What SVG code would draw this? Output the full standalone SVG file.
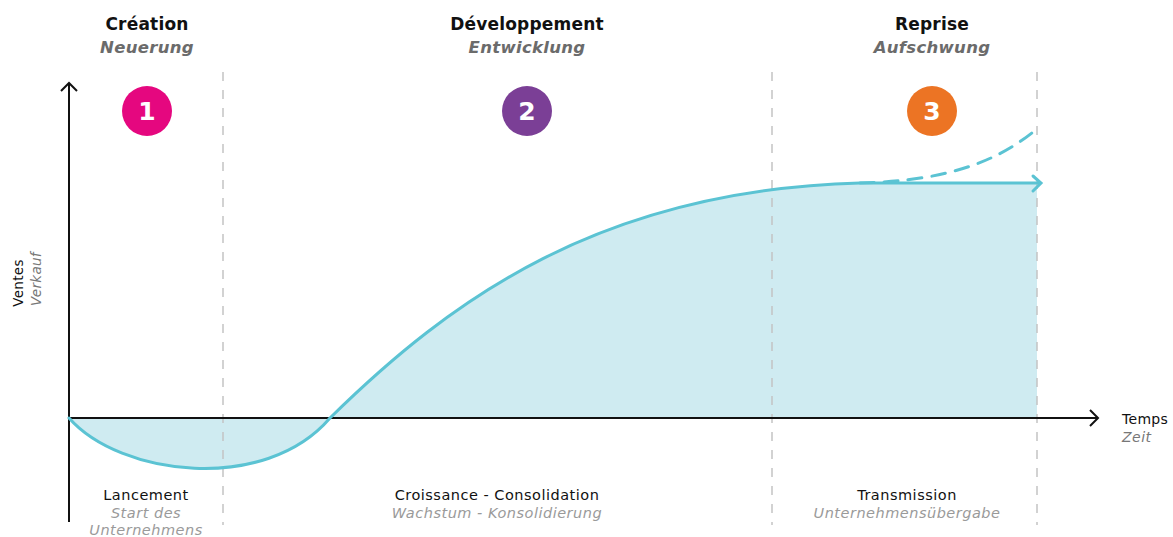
<svg xmlns="http://www.w3.org/2000/svg" width="1173" height="537" viewBox="0 0 1173 537">
<style>
.t{font-family:"DejaVu Sans","Liberation Sans",sans-serif;font-size:17px;font-weight:700;fill:#111;text-anchor:middle;letter-spacing:0.2px}
.ts{font-family:"DejaVu Sans","Liberation Sans",sans-serif;font-size:16.5px;font-weight:700;font-style:italic;fill:#6b6b6b;text-anchor:middle;letter-spacing:0.3px}
.l{font-family:"DejaVu Sans","Liberation Sans",sans-serif;font-size:14.5px;fill:#111;text-anchor:middle;letter-spacing:0.5px}
.ls{font-family:"DejaVu Sans","Liberation Sans",sans-serif;font-size:14.5px;font-style:italic;fill:#9a9a9a;text-anchor:middle;letter-spacing:0.5px}
.n{font-family:"DejaVu Sans","Liberation Sans",sans-serif;font-size:25px;font-weight:700;fill:#fff;text-anchor:middle}
.guide{stroke:#c4c4c4;stroke-width:1.5;stroke-dasharray:9 9;fill:none}
.axis{stroke:#111;stroke-width:2;fill:none}
.curve{stroke:#5bc3d3;stroke-width:3;fill:none;stroke-linecap:round}
</style>
<rect width="1173" height="537" fill="#fff"/>
<g id="area">
<path d="M69,418 C120,476 265,494 330,418 C450,300 600,190 860,183 L1037,183 L1037,418 Z" fill="#cfebf1"/>
</g>
<g id="guides">
<line class="guide" x1="223" y1="72" x2="223" y2="525"/>
<line class="guide" x1="772" y1="72" x2="772" y2="525"/>
<line class="guide" x1="1037" y1="72" x2="1037" y2="525"/>
</g>
<g id="connectors">
<line class="axis" x1="69" y1="83" x2="69" y2="522"/>
<polyline class="axis" points="61,91 69,83 77,91"/>
<line class="axis" x1="69" y1="418" x2="1098" y2="418"/>
<polyline class="axis" points="1090,410 1098,418 1090,426"/>
<path class="curve" d="M69,418 C120,476 265,494 330,418 C450,300 600,190 860,183 L1040,183"/>
<polyline class="curve" points="1033,176 1041,183 1033,191"/>
<path class="curve" d="M860,183 C950,181 1000,160 1038,128" stroke-dasharray="14 10"/>
</g>
<g id="phase1">
<text class="t" x="147" y="30">Création</text>
<text class="ts" x="147" y="53">Neuerung</text>
<circle cx="147" cy="111" r="25" fill="#e5077f"/>
<text class="n" x="147" y="120">1</text>
</g>
<g id="phase2">
<text class="t" x="527" y="30">Développement</text>
<text class="ts" x="527" y="53">Entwicklung</text>
<circle cx="527" cy="111" r="25" fill="#7b3f96"/>
<text class="n" x="527" y="120">2</text>
</g>
<g id="phase3">
<text class="t" x="932" y="30">Reprise</text>
<text class="ts" x="932" y="53">Aufschwung</text>
<circle cx="932" cy="111" r="25" fill="#ec7424"/>
<text class="n" x="932" y="120">3</text>
</g>
<g id="yaxis-label">
<text class="l" x="0" y="0" transform="translate(23,283) rotate(-90)" style="font-size:13.5px;letter-spacing:0.3px">Ventes</text>
<text class="ls" x="0" y="0" transform="translate(41,279) rotate(-90)" style="fill:#777;font-size:13.5px;letter-spacing:0.3px">Verkauf</text>
</g>
<g id="xaxis-label">
<text class="l" x="1122" y="424" style="text-anchor:start;font-size:14px;letter-spacing:0.3px">Temps</text>
<text class="ls" x="1122" y="442" style="text-anchor:start;fill:#777;font-size:14px">Zeit</text>
</g>
<g id="stage1">
<text class="l" x="146" y="500">Lancement</text>
<text class="ls" x="146" y="518">Start des</text>
<text class="ls" x="146" y="535">Unternehmens</text>
</g>
<g id="stage2">
<text class="l" x="497" y="500">Croissance - Consolidation</text>
<text class="ls" x="497" y="518">Wachstum - Konsolidierung</text>
</g>
<g id="stage3">
<text class="l" x="907" y="500">Transmission</text>
<text class="ls" x="907" y="518">Unternehmensübergabe</text>
</g>
</svg>
